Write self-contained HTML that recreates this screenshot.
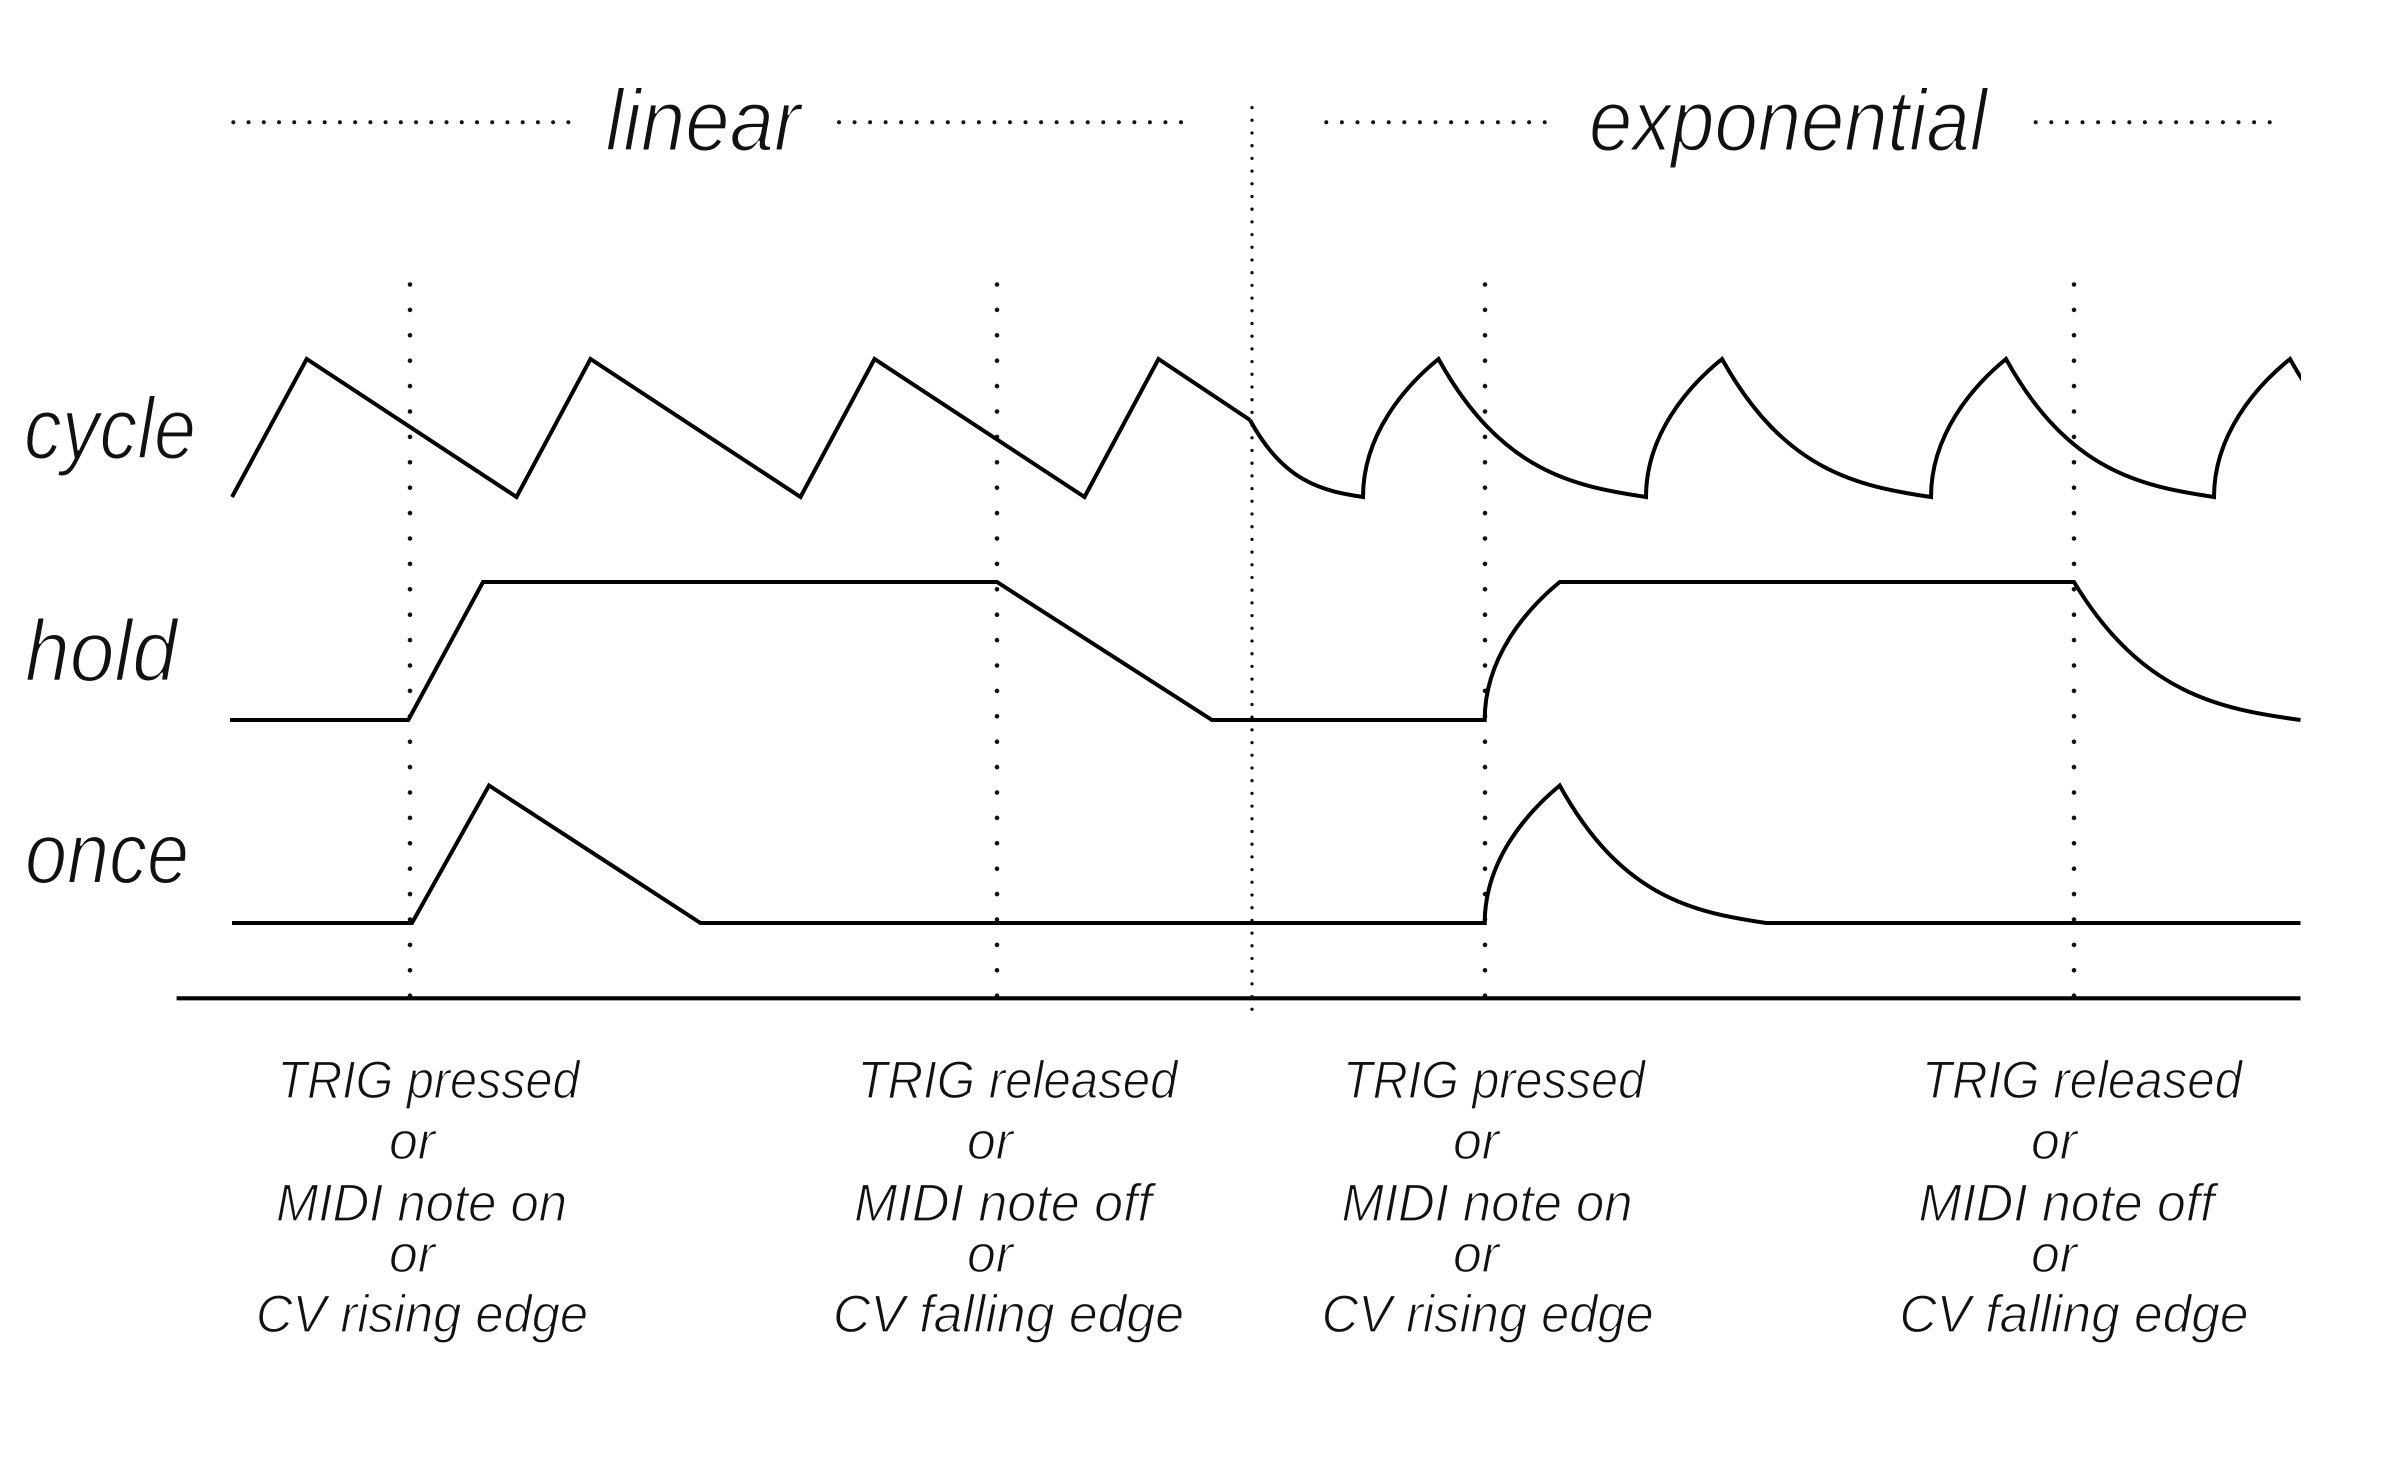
<!DOCTYPE html>
<html>
<head>
<meta charset="utf-8">
<style>
  html, body { margin: 0; padding: 0; background: #fff; }
  svg { display: block; }
  text { font-family: "Liberation Sans", "DejaVu Sans", sans-serif; font-style: italic; fill: #111; }
  .big { font-size: 87px; stroke: #fff; stroke-width: 2px; }
  .small { font-size: 53px; stroke: #fff; stroke-width: 1.2px; }
</style>
</head>
<body>
<svg width="2400" height="1478" viewBox="0 0 2400 1478" xmlns="http://www.w3.org/2000/svg">
  <rect x="0" y="0" width="2400" height="1478" fill="#fff"/>
  <defs>
    <clipPath id="clipR">
      <rect x="0" y="0" width="2301" height="1478"/>
    </clipPath>
  </defs>

  <!-- title dotted segments -->
  <g stroke="#111" stroke-linecap="round" fill="none" stroke-width="4">
    <line x1="233.3" y1="122.3" x2="568.8" y2="122.3" stroke-dasharray="0 15.23"/>
    <line x1="839" y1="122.3" x2="1181.6" y2="122.3" stroke-dasharray="0 15.545"/>
    <line x1="1326.3" y1="122.3" x2="1560.2" y2="122.3" stroke-dasharray="0 15.6"/>
    <line x1="2035.7" y1="122.3" x2="2270.3" y2="122.3" stroke-dasharray="0 15.6"/>
  </g>

  <!-- event dotted verticals -->
  <g stroke="#111" stroke-linecap="round" fill="none" stroke-width="4.6">
    <line x1="410" y1="284.5" x2="410" y2="996.5" stroke-dasharray="0 25.4"/>
    <line x1="997" y1="284.5" x2="997" y2="996.5" stroke-dasharray="0 25.4"/>
    <line x1="1485" y1="284.5" x2="1485" y2="996.5" stroke-dasharray="0 25.4"/>
    <line x1="2074" y1="284.5" x2="2074" y2="996.5" stroke-dasharray="0 25.4"/>
  </g>
  <!-- center dotted divider -->
  <line x1="1252" y1="107.6" x2="1252" y2="1010" stroke="#111" stroke-linecap="round" stroke-width="3.3" stroke-dasharray="0 12.7"/>

  <!-- waveforms -->
  <g stroke="#000" stroke-width="4" fill="none" stroke-linejoin="miter" stroke-linecap="butt">
    <!-- cycle linear -->
    <path d="M232,497 L306.7,359 L516.5,497 L590.5,359 L800.5,497 L874.5,359 L1084.5,497 L1158.5,359 L1250,420"/>
    <!-- cycle exponential -->
    <path clip-path="url(#clipR)" d="M1250,420
      C1283.9,482.8 1323.5,491 1363,497
      C1363,434.9 1404.5,386.6 1438.5,359
      C1500.75,471.6 1573.4,486.2 1646,497
      C1646,434.9 1687.8,386.6 1722,359
      C1784.7,471.6 1857.9,486.2 1931,497
      C1931,434.9 1972.25,386.6 2006,359
      C2068.4,471.6 2141.2,486.2 2214,497
      C2214,434.9 2255.8,386.6 2290,359
      C2352.4,471.6 2425.2,486.2 2498,497"/>
    <!-- hold -->
    <path d="M230,720 L408.3,720 L483,582 L997,582 L1212,720 L1484.7,720
      C1484.7,657.9 1526,609.6 1559.7,582
      L2074,582
      C2142,694.6 2221.2,709.2 2300.5,720"/>
    <!-- once -->
    <path d="M232,923 L412,923 L489,785.5 L700.5,923 L1484.7,923
      C1484.7,861.4 1526,813.4 1559.7,785.5
      C1621.7,897.8 1694,912.3 1766.3,923
      L2300.5,923"/>
    <!-- axis -->
    <line x1="176.6" y1="998.3" x2="2300.5" y2="998.3" stroke-width="4.2"/>
  </g>

  <!-- titles -->
  <text class="big" x="703" y="150.7" text-anchor="middle" textLength="195" lengthAdjust="spacingAndGlyphs">linear</text>
  <text class="big" x="1788" y="150.7" text-anchor="middle" textLength="398" lengthAdjust="spacingAndGlyphs">exponential</text>

  <!-- row labels -->
  <text class="big" x="24" y="458.5" textLength="172" lengthAdjust="spacingAndGlyphs">cycle</text>
  <text class="big" x="25" y="681" textLength="152" lengthAdjust="spacingAndGlyphs">hold</text>
  <text class="big" x="25" y="883" textLength="164" lengthAdjust="spacingAndGlyphs">once</text>

  <!-- bottom labels -->
  <g text-anchor="middle">
    <text class="small" x="428.5" y="1098" textLength="302" lengthAdjust="spacingAndGlyphs">TRIG pressed</text>
    <text class="small" x="412" y="1159" textLength="46" lengthAdjust="spacingAndGlyphs">or</text>
    <text class="small" x="421.5" y="1221" textLength="291" lengthAdjust="spacingAndGlyphs">MIDI note on</text>
    <text class="small" x="412" y="1272" textLength="46" lengthAdjust="spacingAndGlyphs">or</text>
    <text class="small" x="422" y="1332" textLength="332" lengthAdjust="spacingAndGlyphs">CV rising edge</text>

    <text class="small" x="1017.5" y="1098" textLength="320" lengthAdjust="spacingAndGlyphs">TRIG released</text>
    <text class="small" x="990" y="1159" textLength="46" lengthAdjust="spacingAndGlyphs">or</text>
    <text class="small" x="1003" y="1221" textLength="298" lengthAdjust="spacingAndGlyphs">MIDI note off</text>
    <text class="small" x="990" y="1272" textLength="46" lengthAdjust="spacingAndGlyphs">or</text>
    <text class="small" x="1008.5" y="1332" textLength="351" lengthAdjust="spacingAndGlyphs">CV falling edge</text>

    <text class="small" x="1494" y="1098" textLength="302" lengthAdjust="spacingAndGlyphs">TRIG pressed</text>
    <text class="small" x="1476" y="1159" textLength="46" lengthAdjust="spacingAndGlyphs">or</text>
    <text class="small" x="1487" y="1221" textLength="291" lengthAdjust="spacingAndGlyphs">MIDI note on</text>
    <text class="small" x="1476" y="1272" textLength="46" lengthAdjust="spacingAndGlyphs">or</text>
    <text class="small" x="1487.7" y="1332" textLength="332" lengthAdjust="spacingAndGlyphs">CV rising edge</text>

    <text class="small" x="2082" y="1098" textLength="320" lengthAdjust="spacingAndGlyphs">TRIG released</text>
    <text class="small" x="2054" y="1159" textLength="46" lengthAdjust="spacingAndGlyphs">or</text>
    <text class="small" x="2066.5" y="1221" textLength="296" lengthAdjust="spacingAndGlyphs">MIDI note off</text>
    <text class="small" x="2054" y="1272" textLength="46" lengthAdjust="spacingAndGlyphs">or</text>
    <text class="small" x="2074" y="1332" textLength="349" lengthAdjust="spacingAndGlyphs">CV falling edge</text>
  </g>
</svg>
</body>
</html>
